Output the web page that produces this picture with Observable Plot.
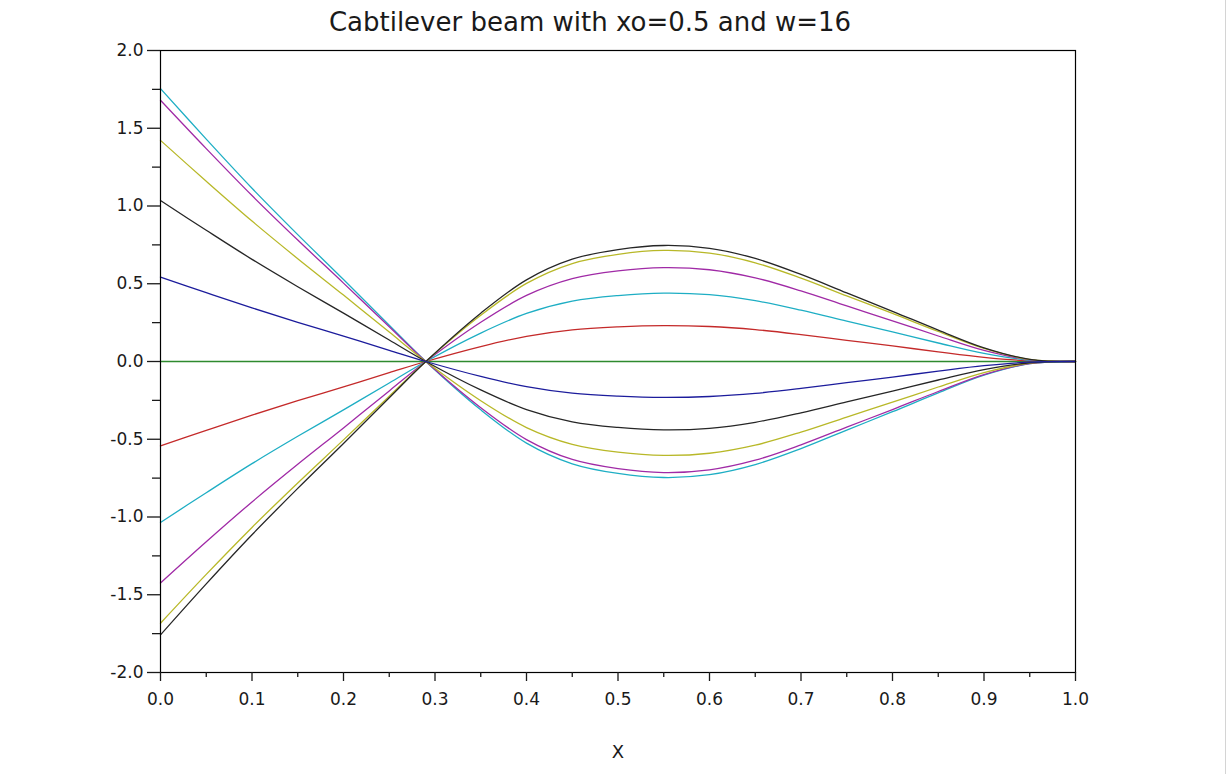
<!DOCTYPE html>
<html>
<head>
<meta charset="utf-8">
<script src="https://cdn.jsdelivr.net/npm/d3@7"></script>
<script src="https://cdn.jsdelivr.net/npm/@observablehq/plot@0.6"></script>
<style>
  html, body { margin: 0; padding: 0; background: #ffffff; }
  #chart { width: 1227px; height: 774px; overflow: hidden; position: relative; }
  #chart::after { content: ""; position: absolute; top: 0; right: 1px; width: 1px; height: 774px; background: #d4d4d4; }
  svg { display: block; }
</style>
</head>
<body>
<div id="chart"></div>
<script>
// ---- data ----
const titleText = "Cabtilever beam with xo=0.5 and w=16";
const xLabel = "X";

const xs = [0, 0.05, 0.1, 0.15, 0.2, 0.25, 0.29, 0.35, 0.4, 0.45, 0.5, 0.55, 0.6, 0.65, 0.7, 0.75, 0.8, 0.85, 0.9, 0.95, 1.0];

const cyanPos    = [1.755, 1.430, 1.114, 0.816, 0.527, 0.233, 0, -0.311, -0.525, -0.658, -0.720, -0.746, -0.728, -0.663, -0.560, -0.441, -0.323, -0.202, -0.088, -0.014, 0];
const magentaPos = [1.680, 1.369, 1.067, 0.781, 0.504, 0.223, 0, -0.297, -0.502, -0.630, -0.689, -0.714, -0.697, -0.635, -0.536, -0.422, -0.309, -0.193, -0.084, -0.013, 0];
const yellowPos  = [1.422, 1.159, 0.903, 0.661, 0.427, 0.189, 0, -0.252, -0.425, -0.533, -0.583, -0.604, -0.590, -0.538, -0.454, -0.357, -0.262, -0.164, -0.071, -0.011, 0];
const blackPos   = [1.035, 0.844, 0.657, 0.481, 0.311, 0.138, 0, -0.183, -0.309, -0.388, -0.424, -0.440, -0.430, -0.391, -0.330, -0.260, -0.190, -0.119, -0.052, -0.008, 0];
const bluePos    = [0.543, 0.443, 0.345, 0.252, 0.163, 0.072, 0, -0.096, -0.162, -0.204, -0.223, -0.231, -0.225, -0.205, -0.173, -0.136, -0.100, -0.062, -0.027, -0.004, 0];
const greenZero  = [0, 0, 0, 0, 0, 0, 0, 0, 0, 0, 0, 0, 0, 0, 0, 0, 0, 0, 0, 0, 0];
const redNeg     = [-0.543, -0.443, -0.345, -0.252, -0.163, -0.072, 0, 0.096, 0.162, 0.204, 0.223, 0.231, 0.225, 0.205, 0.173, 0.136, 0.100, 0.062, 0.027, 0.004, 0];
const cyanNeg    = [-1.035, -0.844, -0.657, -0.481, -0.311, -0.138, 0, 0.183, 0.309, 0.388, 0.424, 0.440, 0.430, 0.391, 0.330, 0.260, 0.190, 0.119, 0.052, 0.008, 0];
const magentaNeg = [-1.424, -1.159, -0.903, -0.661, -0.427, -0.189, 0, 0.252, 0.425, 0.533, 0.583, 0.604, 0.590, 0.538, 0.454, 0.357, 0.262, 0.164, 0.071, 0.011, 0];
const yellowNeg  = [-1.683, -1.369, -1.067, -0.781, -0.504, -0.223, 0, 0.297, 0.502, 0.630, 0.689, 0.714, 0.697, 0.635, 0.536, 0.422, 0.309, 0.193, 0.084, 0.013, 0];
const blackNeg   = [-1.758, -1.430, -1.114, -0.816, -0.527, -0.233, 0, 0.311, 0.525, 0.658, 0.720, 0.746, 0.728, 0.663, 0.560, 0.441, 0.323, 0.202, 0.088, 0.014, 0];

const seriesNames  = ["cyanPos", "magentaPos", "yellowPos", "blackPos", "greenZero", "redNeg", "cyanNeg", "magentaNeg", "yellowNeg", "blackNeg", "bluePos"];
const seriesValues = [cyanPos, magentaPos, yellowPos, blackPos, greenZero, redNeg, cyanNeg, magentaNeg, yellowNeg, blackNeg, bluePos];
const seriesColors = ["#1eaec4", "#a02aa6", "#b8b828", "#262626", "#2e8a2e", "#c42a2a", "#1eaec4", "#a02aa6", "#b8b828", "#262626", "#1c1c9c"];

const xMajor = [0, 0.1, 0.2, 0.3, 0.4, 0.5, 0.6, 0.7, 0.8, 0.9, 1.0];
const xMinor = [0.05, 0.15, 0.25, 0.35, 0.45, 0.55, 0.65, 0.75, 0.85, 0.95];
const yMajor = [-2, -1.5, -1, -0.5, 0, 0.5, 1, 1.5, 2];
const yMinor = [-1.75, -1.25, -0.75, -0.25, 0.25, 0.75, 1.25, 1.75];

// ---- build long table ----
const rows = [];
seriesValues.forEach((vals, si) => {
  vals.forEach((v, i) => rows.push({series: seriesNames[si], x: xs[i], y: v}));
});

const font = "DejaVu Sans, Verdana, sans-serif";
const fmt = d => d.toFixed(1);

const chart = Plot.plot({
  width: 1227,
  height: 774,
  marginLeft: 160,
  marginRight: 152,
  marginTop: 50,
  marginBottom: 102,
  style: {fontFamily: font, background: "#ffffff", color: "#1a1a1a"},
  x: {domain: [0, 1]},
  y: {domain: [-2, 2]},
  marks: [
    ...seriesNames.map((name, si) =>
      Plot.line(rows.filter(d => d.series === name), {
        x: "x", y: "y", stroke: seriesColors[si], strokeWidth: 1.3, curve: "catmull-rom"
      })
    ),
    Plot.frame({stroke: "#000", strokeWidth: 1.2}),
    Plot.axisX({ticks: xMinor, tickSize: 5, tickFormat: () => "", strokeWidth: 1.3, label: null}),
    Plot.axisX({ticks: xMajor, tickSize: 9, tickPadding: 11, tickFormat: fmt, fontSize: 17, strokeWidth: 1.3, label: null}),
    Plot.axisY({ticks: yMinor, tickSize: 8, tickFormat: () => "", strokeWidth: 1.3, label: null}),
    Plot.axisY({ticks: yMajor, tickSize: 13, tickPadding: 4, tickFormat: fmt, fontSize: 17, strokeWidth: 1.3, label: null}),
    Plot.text([titleText], {frameAnchor: "top", dy: -28, dx: -28, fontSize: 26, fill: "#1a1a1a", lineAnchor: "middle"}),
    Plot.text([xLabel], {frameAnchor: "bottom", dy: 80, fontSize: 18, fill: "#1a1a1a", lineAnchor: "middle"})
  ]
});

document.getElementById("chart").appendChild(chart);
</script>
</body>
</html>
